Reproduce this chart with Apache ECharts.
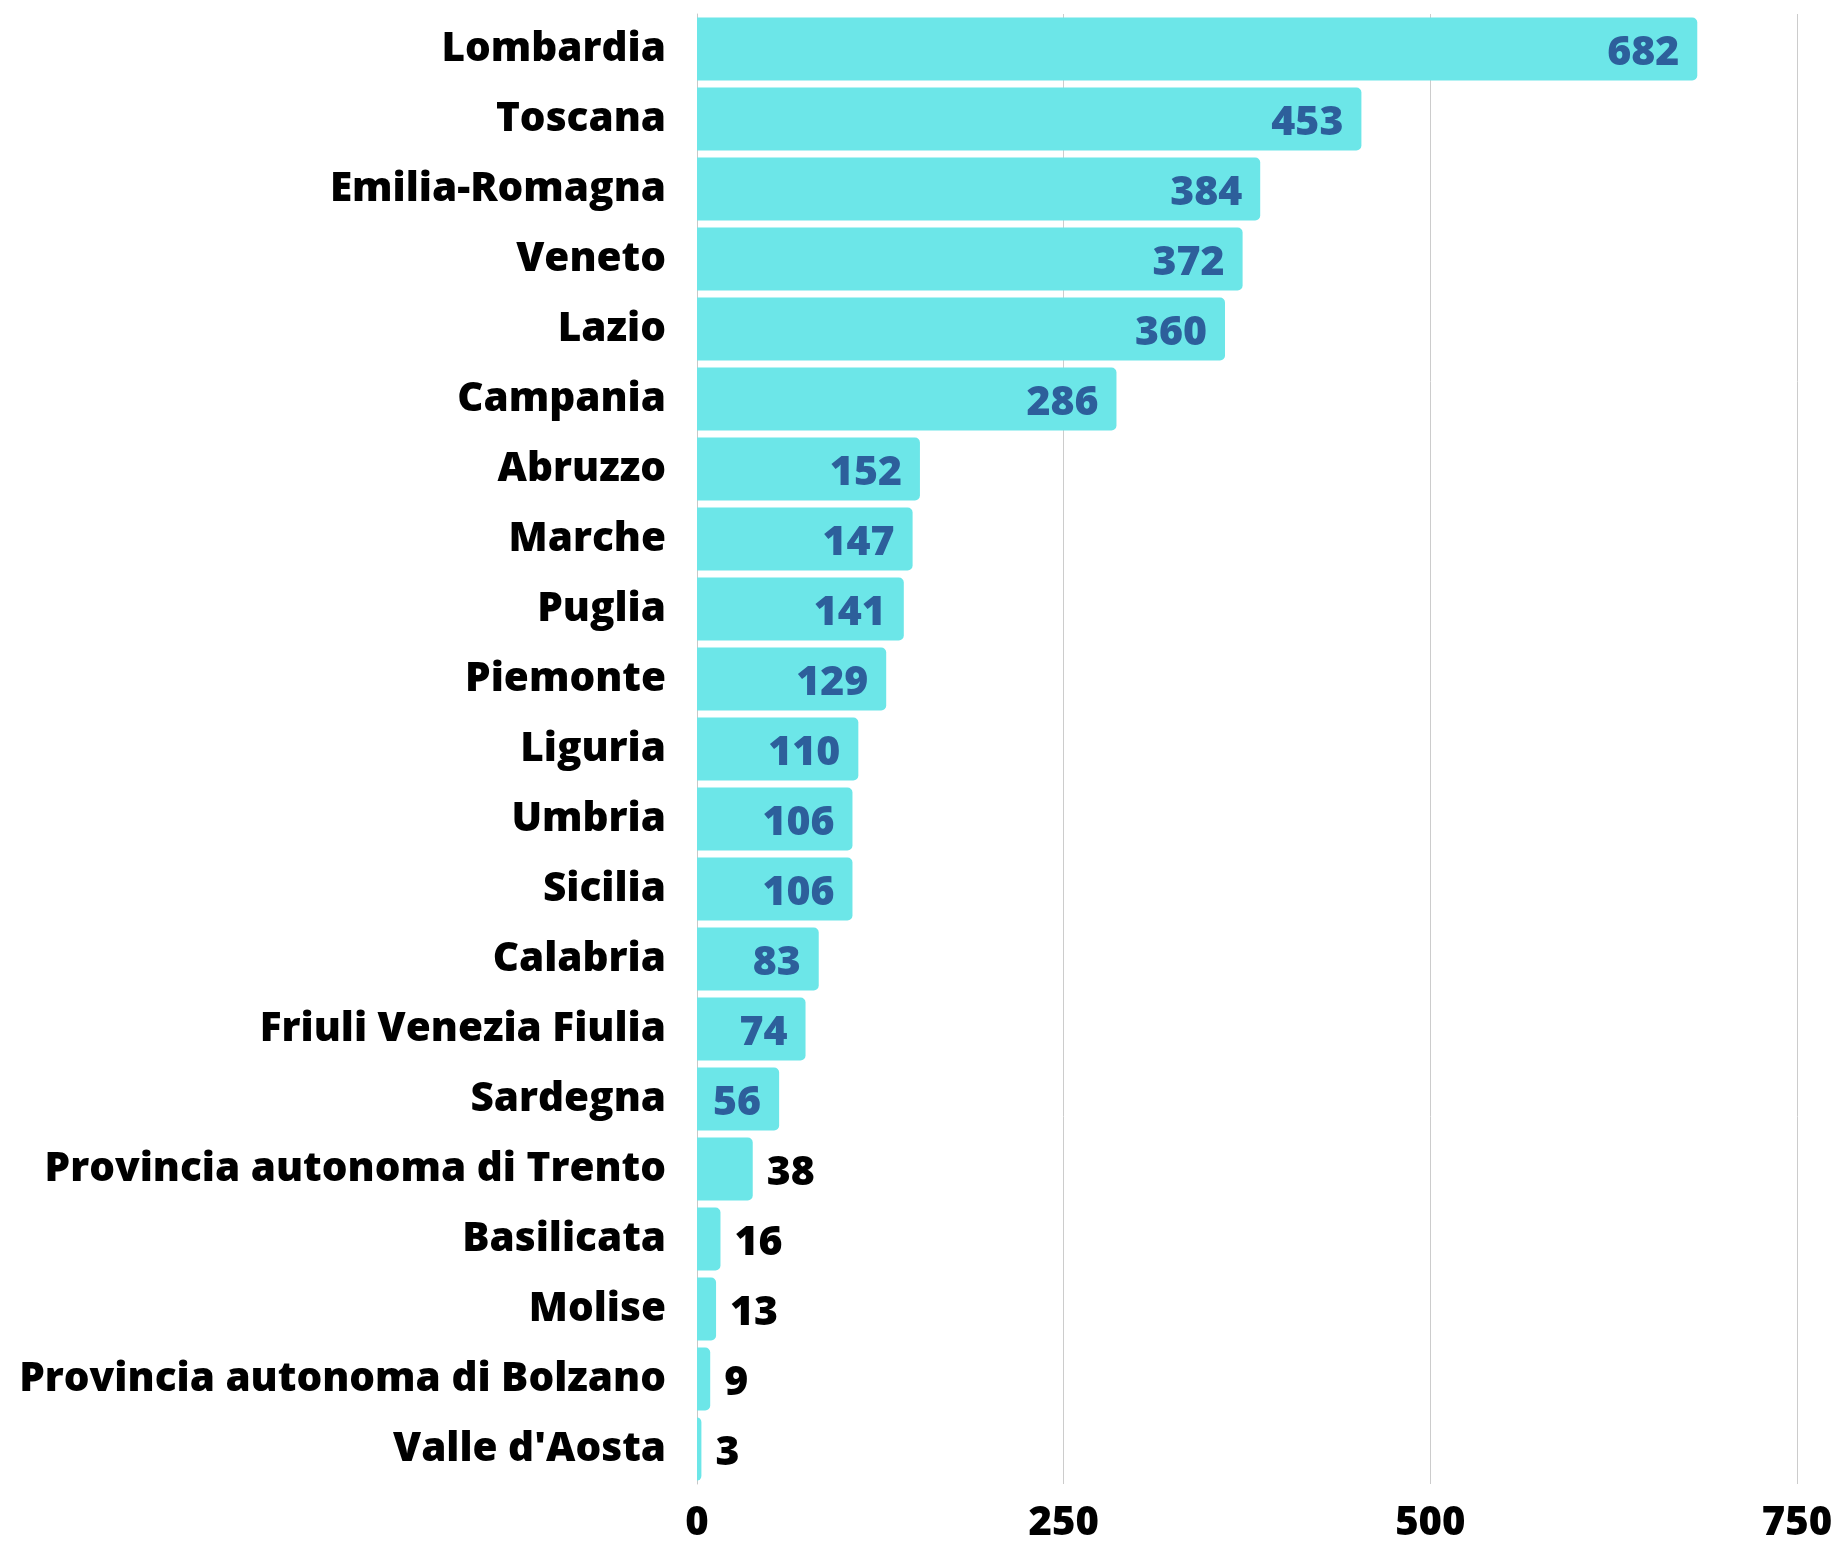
<!DOCTYPE html>
<html>
<head>
<meta charset="utf-8">
<script src="https://cdn.jsdelivr.net/npm/echarts@6/dist/echarts.min.js"></script>
<style>
html,body{margin:0;padding:0;background:#fff;}
#chart{width:1841px;height:1544px;}
</style>
</head>
<body>
<div id="chart"></div>
<script>
const categories = ["Lombardia","Toscana","Emilia-Romagna","Veneto","Lazio","Campania","Abruzzo","Marche","Puglia","Piemonte","Liguria","Umbria","Sicilia","Calabria","Friuli Venezia Fiulia","Sardegna","Provincia autonoma di Trento","Basilicata","Molise","Provincia autonoma di Bolzano","Valle d'Aosta"];
const values = [682,453,384,372,360,286,152,147,141,129,110,106,106,83,74,56,38,16,13,9,3];
const xTicks = [0,250,500,750];

const FONT = '"Open Sans", sans-serif';
const seriesData = values.map(v => {
  const inside = v >= 50;
  return {
    value: v,
    label: inside
      ? {position: 'insideRight', distance: 18, color: '#2d5f9b'}
      : {position: 'right', distance: 14, color: '#000'}
  };
});

const chart = echarts.init(document.getElementById('chart'));
chart.setOption({
  animation: false,
  grid: {left: 697, right: 44, top: 14, bottom: 55, containLabel: false},
  xAxis: {
    type: 'value', min: xTicks[0], max: xTicks[xTicks.length-1], interval: 250,
    axisLine: {show: false}, axisTick: {show: false},
    splitLine: {show: true, lineStyle: {color: '#cccccc', width: 1}},
    axisLabel: {color: '#000', fontFamily: FONT, fontWeight: 800, fontSize: 40, margin: 20}
  },
  yAxis: {
    type: 'category', data: categories, inverse: true,
    axisLine: {show: true, lineStyle: {color: '#c8c8c8', width: 1}},
    axisTick: {show: false},
    axisLabel: {color: '#000', fontFamily: FONT, fontWeight: 800, fontSize: 40.5, margin: 31, padding: [6,0,0,0]}
  },
  series: [{
    type: 'bar',
    data: seriesData,
    barCategoryGap: '10%',
    itemStyle: {color: '#6ce6e8', borderRadius: [0,5,5,0]},
    label: {show: true, fontFamily: FONT, fontWeight: 800, fontSize: 41, offset: [0, 4]}
  }]
});
</script>
</body>
</html>
